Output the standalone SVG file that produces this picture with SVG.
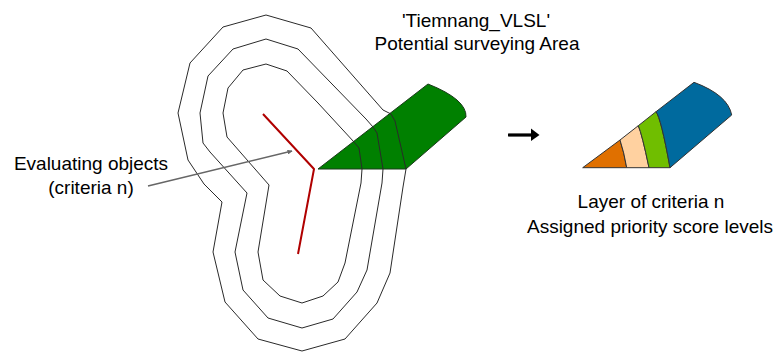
<svg xmlns="http://www.w3.org/2000/svg" width="777" height="352" viewBox="0 0 777 352">
  <defs>
    <style>
      .contour { fill: none; stroke: #2a2a2a; stroke-width: 1; stroke-linejoin: round; }
      .label { font-family: "Liberation Sans", Arial, sans-serif; font-size: 19px; fill: #000; text-anchor: middle; }
      .band { stroke: #333; stroke-width: 1; stroke-linejoin: round; }
      .object { fill: none; stroke: #b00000; stroke-width: 2; stroke-linejoin: round; }
      .leader { fill: none; stroke: #666; stroke-width: 1.6; }
    </style>
    <marker id="leaderHead" viewBox="0 0 10 10" refX="9" refY="5" markerWidth="5" markerHeight="5" orient="auto" markerUnits="userSpaceOnUse">
      <path d="M0,0 L10,5 L0,10 z" fill="#666"/>
    </marker>
  </defs>

  <rect width="777" height="352" fill="#fff"/>

  <!-- potential surveying area: green sector -->
  <g id="survey-area">
    <path d="M318,169 L428,84 Q467,99.5 466,117 L406,169 Z" fill="#008000" stroke="#1a3a1a" stroke-width="1"/>
  </g>

  <!-- buffer rings around the evaluated object -->
  <g id="buffer-rings">
    <path class="contour" d="M266,15 L311,28 L383,110 L391,114 L395,121 L406,169 L403,187 L390,273 L377,303 L345,339 L302,351 L258,339 L225,302 L213,252 L222,202 L204,184 L188,160 L178,113 L190,63 L223,27 Z"/>
    <path class="contour" d="M266,39 L298,49 L366,119 L373,127 L377,133 L383,169 L382,183 L367,270 L357,292 L333,319 L302,328 L268,318 L243,290 L235,252 L247,193 L210,152 L203,143 L200,113 L208,76 L233,49 Z"/>
    <path class="contour" d="M266,64 L287,71 L318,103 L354,142 L359,148 L362,169 L361,183 L345,263 L338,282 L323,296 L302,303 L280,296 L263,280 L258,252 L269,185 L227,137 L223,113 L228,88 L243,70 Z"/>
  </g>

  <!-- evaluated object (criteria n) -->
  <g id="evaluating-object">
    <path class="object" d="M263,114 L314,169 L298,254"/>
  </g>

  <!-- connectors -->
  <g id="connectors">
    <path class="leader" d="M148,186 L292,151" marker-end="url(#leaderHead)"/>
    <path d="M508,135 L532,135" stroke="#000" stroke-width="3.2" fill="none"/>
    <path d="M531,128.5 L539.5,135 L531,141 Z" fill="#000"/>
  </g>

  <!-- layer of criteria n with priority score levels -->
  <g id="priority-layer">
    <path class="band" d="M582.7,167.7 L620,140 Q624,152 626.7,167.7 Z" fill="#e07000"/>
    <path class="band" d="M620,140 L638.3,125.7 Q642,134 649,167.7 L626.7,167.7 Q624,152 620,140 Z" fill="#ffd1a0"/>
    <path class="band" d="M638.3,125.7 L656,111.7 Q661,118 670,167.7 L649,167.7 Q642,134 638.3,125.7 Z" fill="#70be00"/>
    <path class="band" d="M656,111.7 L694,82.3 Q728,95 731.7,115 L670,167.7 Q661,118 656,111.7 Z" fill="#006a9e"/>
  </g>

  <!-- labels -->
  <g id="label-area">
    <text class="label" x="476" y="27">'Tiemnang_VLSL'</text>
    <text class="label" x="477" y="50">Potential surveying Area</text>
  </g>
  <g id="label-objects">
    <text class="label" x="91" y="170">Evaluating objects</text>
    <text class="label" x="91" y="194">(criteria n)</text>
  </g>
  <g id="label-layer">
    <text class="label" x="651" y="208">Layer of criteria n</text>
    <text class="label" x="650" y="233">Assigned priority score levels</text>
  </g>
</svg>
